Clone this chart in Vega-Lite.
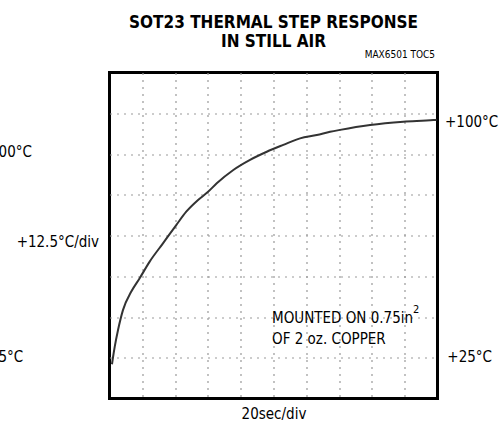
{
  "$schema": "https://vega.github.io/schema/vega-lite/v6.json",
  "width": 328,
  "height": 326,
  "autosize": {"type": "none"},
  "padding": {"left": 109.5, "top": 72.5, "right": 61.5, "bottom": 35.5},
  "background": "white",
  "title": {
    "text": ["SOT23 THERMAL STEP RESPONSE", "IN STILL AIR"],
    "font": "DejaVu Sans Condensed",
    "fontWeight": "bold",
    "fontSize": 17,
    "lineHeight": 19,
    "color": "black",
    "anchor": "middle",
    "offset": -1
  },
  "config": {
    "view": {"stroke": "black", "strokeWidth": 3},
    "font": "DejaVu Sans Condensed"
  },
  "datasets": {
    "curve": [
      {"t": 1.5, "temp": 23.0},
      {"t": 2.1, "temp": 25.0},
      {"t": 3.2, "temp": 28.4},
      {"t": 5.2, "temp": 33.5},
      {"t": 8.2, "temp": 39.6},
      {"t": 13.3, "temp": 45.3},
      {"t": 18.4, "temp": 49.4},
      {"t": 24.5, "temp": 54.5},
      {"t": 32.6, "temp": 60.1},
      {"t": 40.7, "temp": 65.7},
      {"t": 46.8, "temp": 69.8},
      {"t": 54.0, "temp": 73.4},
      {"t": 60.1, "temp": 75.9},
      {"t": 65.4, "temp": 78.5},
      {"t": 75.5, "temp": 82.6},
      {"t": 85.7, "temp": 85.7},
      {"t": 95.9, "temp": 88.2},
      {"t": 106.0, "temp": 90.3},
      {"t": 116.2, "temp": 92.3},
      {"t": 126.4, "temp": 93.3},
      {"t": 134.5, "temp": 94.3},
      {"t": 140.6, "temp": 94.9},
      {"t": 158.9, "temp": 96.4},
      {"t": 179.2, "temp": 97.4},
      {"t": 197.5, "temp": 97.9},
      {"t": 199.5, "temp": 98.0}
    ],
    "rightLabels": [
      {"t": 204.6, "temp": 97.2, "label": "+100°C"},
      {"t": 206.0, "temp": 25.3, "label": "+25°C"},
      {"t": 99.1, "temp": 37.2, "label": "MOUNTED ON 0.75in"},
      {"t": 99.1, "temp": 30.8, "label": "OF 2 oz. COPPER"}
    ],
    "leftLabels": [
      {"t": -47.3, "temp": 88.2, "label": "+100°C"},
      {"t": -6.4, "temp": 60.5, "label": "+12.5°C/div"},
      {"t": -52.6, "temp": 25.3, "label": "+25°C"}
    ],
    "superscript": [
      {"t": 185.0, "temp": 39.6, "label": "2"}
    ],
    "figureId": [
      {"t": 198.5, "temp": 117.9, "label": "MAX6501 TOC5"}
    ]
  },
  "layer": [
    {
      "data": {"name": "curve"},
      "mark": {"type": "line", "color": "#333333", "strokeWidth": 2, "interpolate": "monotone"},
      "encoding": {
        "x": {
          "field": "t", "type": "quantitative",
          "scale": {"domain": [0, 200], "nice": false, "zero": false},
          "axis": {
            "values": [20, 40, 60, 80, 100, 120, 140, 160, 180],
            "labels": false, "ticks": false, "domain": false,
            "grid": true, "gridColor": "#999999", "gridDash": [2, 5], "gridWidth": 1.2,
            "title": "20sec/div", "titleFont": "DejaVu Sans Condensed",
            "titleFontSize": 15, "titleFontWeight": "normal", "titleColor": "black",
            "titlePadding": 8
          }
        },
        "y": {
          "field": "temp", "type": "quantitative",
          "scale": {"domain": [12.5, 112.5], "nice": false, "zero": false},
          "axis": {
            "values": [25, 37.5, 50, 62.5, 75, 87.5, 100],
            "labels": false, "ticks": false, "domain": false,
            "grid": true, "gridColor": "#999999", "gridDash": [2, 5], "gridWidth": 1.2,
            "title": null
          }
        }
      }
    },
    {
      "data": {"name": "rightLabels"},
      "mark": {"type": "text", "align": "left", "baseline": "middle", "fontSize": 15, "color": "black", "font": "DejaVu Sans Condensed"},
      "encoding": {
        "x": {"field": "t", "type": "quantitative"},
        "y": {"field": "temp", "type": "quantitative"},
        "text": {"field": "label"}
      }
    },
    {
      "data": {"name": "leftLabels"},
      "mark": {"type": "text", "align": "right", "baseline": "middle", "fontSize": 15, "color": "black", "font": "DejaVu Sans Condensed"},
      "encoding": {
        "x": {"field": "t", "type": "quantitative"},
        "y": {"field": "temp", "type": "quantitative"},
        "text": {"field": "label"}
      }
    },
    {
      "data": {"name": "superscript"},
      "mark": {"type": "text", "align": "left", "baseline": "middle", "fontSize": 11, "color": "black", "font": "DejaVu Sans Condensed"},
      "encoding": {
        "x": {"field": "t", "type": "quantitative"},
        "y": {"field": "temp", "type": "quantitative"},
        "text": {"field": "label"}
      }
    },
    {
      "data": {"name": "figureId"},
      "mark": {"type": "text", "align": "right", "baseline": "middle", "fontSize": 10, "color": "black", "font": "DejaVu Sans Condensed"},
      "encoding": {
        "x": {"field": "t", "type": "quantitative"},
        "y": {"field": "temp", "type": "quantitative"},
        "text": {"field": "label"}
      }
    }
  ]
}
